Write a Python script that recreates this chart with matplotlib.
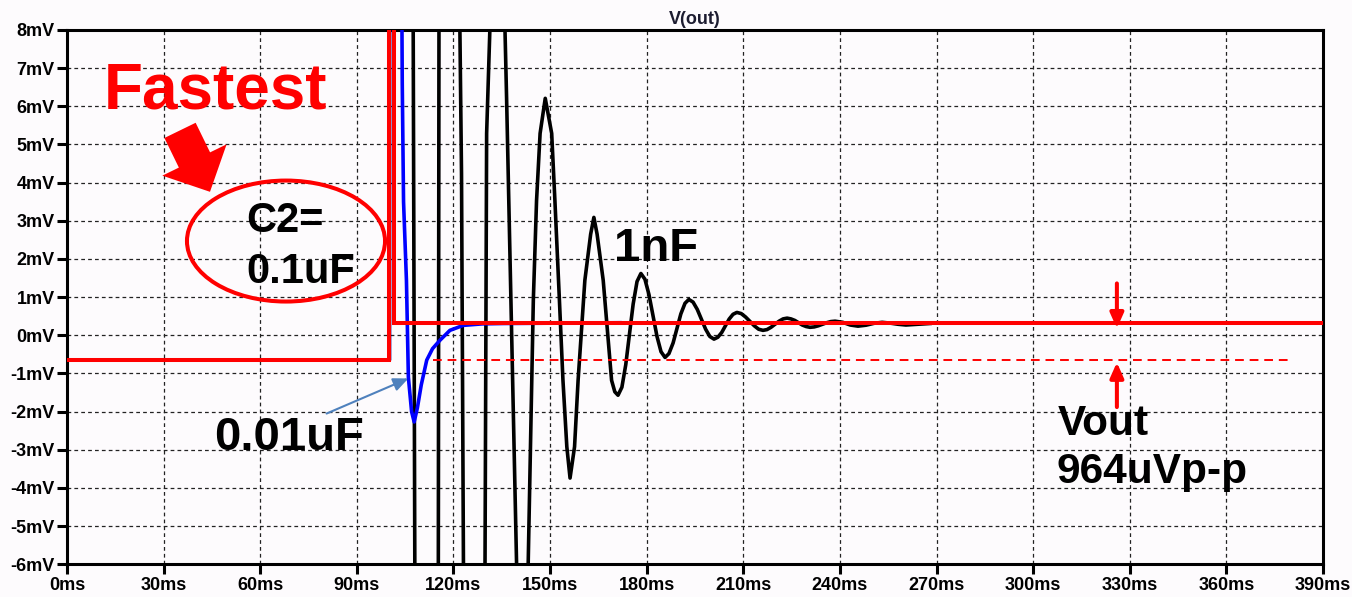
import matplotlib
matplotlib.use("Agg")
import matplotlib.pyplot as plt
from matplotlib.patches import Ellipse

plt.rcParams['font.family'] = ['Liberation Sans', 'DejaVu Sans']
plt.rcParams['font.weight'] = 'bold'

# axis ticks (time in ms, voltage in mV)
x_ticks = [0, 30, 60, 90, 120, 150, 180, 210, 240, 270, 300, 330, 360, 390]
x_labels = ["0ms", "30ms", "60ms", "90ms", "120ms", "150ms", "180ms", "210ms",
            "240ms", "270ms", "300ms", "330ms", "360ms", "390ms"]
y_ticks = [-6, -5, -4, -3, -2, -1, 0, 1, 2, 3, 4, 5, 6, 7, 8]
y_labels = ["-6mV", "-5mV", "-4mV", "-3mV", "-2mV", "-1mV", "0mV", "1mV",
            "2mV", "3mV", "4mV", "5mV", "6mV", "7mV", "8mV"]

# V(out) with C2 = 0.1uF
t_fast = [0, 100.1, 100.1, 101.5, 101.5, 390]
v_fast = [-0.65, -0.65, 30.0, 30.0, 0.314, 0.314]

# V(out) with C2 = 0.01uF
t_mid = [0, 100.1, 100.2, 104.0, 104.1, 104.5, 105.4, 106.0, 107.0, 107.8,
         108.8, 110.0, 111.7, 113.5, 115.8, 118.9, 123.0, 129.0, 135.4, 171.7]
v_mid = [-0.65, -0.65, 30.0, 8.2, 6.6, 3.5, 1.44, -1.1, -2.0, -2.27,
         -1.9, -1.3, -0.65, -0.35, -0.13, 0.13, 0.26, 0.30, 0.31, 0.33]

# V(out) with C2 = 1nF
t_slow = [0, 100.1, 100.2, 107.5, 108.0, 111.5, 115.3, 115.5, 118.8,
          122.0, 122.5, 123.1, 126.5, 129.8, 130.3, 131.3, 133.6,
          136.0, 136.5, 139.6, 141.4, 143.2, 144.8, 145.8, 146.9,
          148.5, 150.5, 151.5, 152.9, 154.0, 155.2, 156.2, 157.6,
          158.7, 160.8, 162.6, 163.6, 164.6, 166.5, 169.1, 170.1,
          171.1, 172.3, 173.5, 174.65, 175.8, 177.0,
          178.2, 179.45, 180.7, 181.95, 183.2, 184.45,
          185.7, 186.9, 188.2, 189.4, 190.6, 191.9,
          193.1, 194.4, 195.7, 197.0, 198.3, 199.6,
          200.9, 202.1, 203.3, 204.45, 205.6, 206.8,
          208.0, 209.35, 210.7, 212.05, 213.4, 214.75,
          216.1, 217.35, 218.6, 219.85, 221.1, 222.35,
          223.6, 224.8, 226.0, 227.15, 228.3, 229.5,
          230.7, 232.0, 233.3, 234.6, 235.9, 237.2,
          238.5, 240.9, 243.2, 245.6, 248.1, 250.6, 253.1, 255.6,
          258.0, 260.5, 268.0]
v_slow = [-0.65, -0.65, 30.0, 8.0, -6.0, -30.0, -6.0, 8.0, 30.0,
          8.0, 4.24, -6.0, -30.0, -6.0, 5.29, 8.0, 30.0,
          8.0, 6.2, -6.0, -20.0, -6.0, 0.92, 3.53, 5.29,
          6.21, 5.29, 3.53, 0.92, -1.18, -2.92, -3.74, -2.92,
          -1.18, 1.44, 2.65, 3.09, 2.65, 1.44, -1.18, -1.48,
          -1.57, -1.36, -0.77, 0.03, 0.82, 1.41,
          1.62, 1.47, 1.07, 0.52, -0.03, -0.43,
          -0.58, -0.48, -0.20, 0.18, 0.56, 0.84,
          0.94, 0.87, 0.68, 0.42, 0.16, -0.03,
          -0.10, -0.05, 0.075, 0.25, 0.425, 0.55,
          0.60, 0.57, 0.48, 0.365, 0.25, 0.16,
          0.13, 0.15, 0.21, 0.29, 0.37, 0.43,
          0.45, 0.43, 0.39, 0.33, 0.27, 0.23,
          0.21, 0.22, 0.25, 0.29, 0.33, 0.36,
          0.37, 0.34, 0.27, 0.24, 0.265, 0.315, 0.34, 0.32,
          0.29, 0.27, 0.31]

# settled levels before and after the step
v_before = -0.65
v_after = 0.314

bg = '#fdfbfd'
fig = plt.figure(figsize=(13.52, 5.97), dpi=100, facecolor=bg)
ax = fig.add_axes([67 / 1352, 1 - 564.3 / 597, 1256 / 1352, 534.3 / 597])
ax.set_facecolor(bg)

ax.plot(t_slow, v_slow, color='black', lw=2.6, zorder=3)
ax.plot(t_mid, v_mid, color='#0000ff', lw=2.6, zorder=4)
ax.plot(t_fast, v_fast, color='#ff0000', lw=2.9, zorder=5,
        solid_joinstyle='miter')
ax.plot([113.6, 379.1], [v_before, v_before], color='#ff0000', lw=1.4,
        linestyle=(0, (4.5, 3)), zorder=5)

ax.set_xlim(0, 390)
ax.set_ylim(-6, 8)
ax.set_xticks(x_ticks)
ax.set_xticklabels(x_labels)
ax.set_yticks(y_ticks)
ax.set_yticklabels(y_labels)
ax.tick_params(axis='both', direction='out', length=7, width=2.2,
               color='black', labelsize=13, pad=2)
ax.tick_params(axis='x', pad=2.5)
for lab in ax.get_xticklabels() + ax.get_yticklabels():
    lab.set_fontweight('bold')
for s in ax.spines.values():
    s.set_linewidth(2.2)
    s.set_color('black')
ax.grid(True, color='#222222', lw=0.9, linestyle=(0, (3, 2.5)))
ax.set_axisbelow(True)
ax.set_title("V(out)", fontsize=13, fontweight='bold', color='#1c1c30', pad=4)

# annotations
ax.text(11.4, 5.94, "Fastest", color='#ff0000', fontsize=46,
        fontweight='bold', ha='left', va='baseline', zorder=6)
ax.annotate("", xy=(44.4, 3.76), xytext=(35.1, 5.37),
            arrowprops=dict(arrowstyle='simple,head_length=2.55,head_width=5.15,tail_width=2.5',
                            mutation_scale=10, fc='#ff0000', ec='none',
                            shrinkA=0, shrinkB=0), zorder=6)
ax.add_patch(Ellipse((68.0, 2.47), 61.5, 3.17, fill=False, ec='#ff0000',
                     lw=2.9, zorder=6))
ax.text(55.8, 2.70, "C2=", color='black', fontsize=30, fontweight='bold',
        ha='left', va='baseline', zorder=6)
ax.text(55.8, 1.36, "0.1uF", color='black', fontsize=30, fontweight='bold',
        ha='left', va='baseline', zorder=6)
ax.text(169.8, 1.96, "1nF", color='black', fontsize=34, fontweight='bold',
        ha='left', va='baseline', zorder=6)
ax.text(45.6, -3.01, "0.01uF", color='black', fontsize=34, fontweight='bold',
        ha='left', va='baseline', zorder=6)
ax.annotate("", xy=(106.0, -1.13), xytext=(80.6, -2.05),
            arrowprops=dict(arrowstyle='-|>,head_length=0.9,head_width=0.4',
                            mutation_scale=10, color='#4f81bd', lw=1.5,
                            shrinkA=0, shrinkB=0), zorder=6)
ax.annotate("", xy=(326.0, 0.18), xytext=(326.0, 1.36),
            arrowprops=dict(arrowstyle='-|>,head_length=0.9,head_width=0.4',
                            mutation_scale=10, color='#ff0000', lw=2.9,
                            shrinkA=0, shrinkB=0), zorder=6)
ax.annotate("", xy=(326.0, -0.71), xytext=(326.0, -1.88),
            arrowprops=dict(arrowstyle='-|>,head_length=0.9,head_width=0.4',
                            mutation_scale=10, color='#ff0000', lw=2.9,
                            shrinkA=0, shrinkB=0), zorder=6)
ax.text(307.5, -2.62, "Vout", color='black', fontsize=30.5, fontweight='bold',
        ha='left', va='baseline', zorder=6)
ax.text(307.2, -3.88, "964uVp-p", color='black', fontsize=30.5,
        fontweight='bold', ha='left', va='baseline', zorder=6)

fig.savefig("out.png", dpi=100, facecolor=bg)
